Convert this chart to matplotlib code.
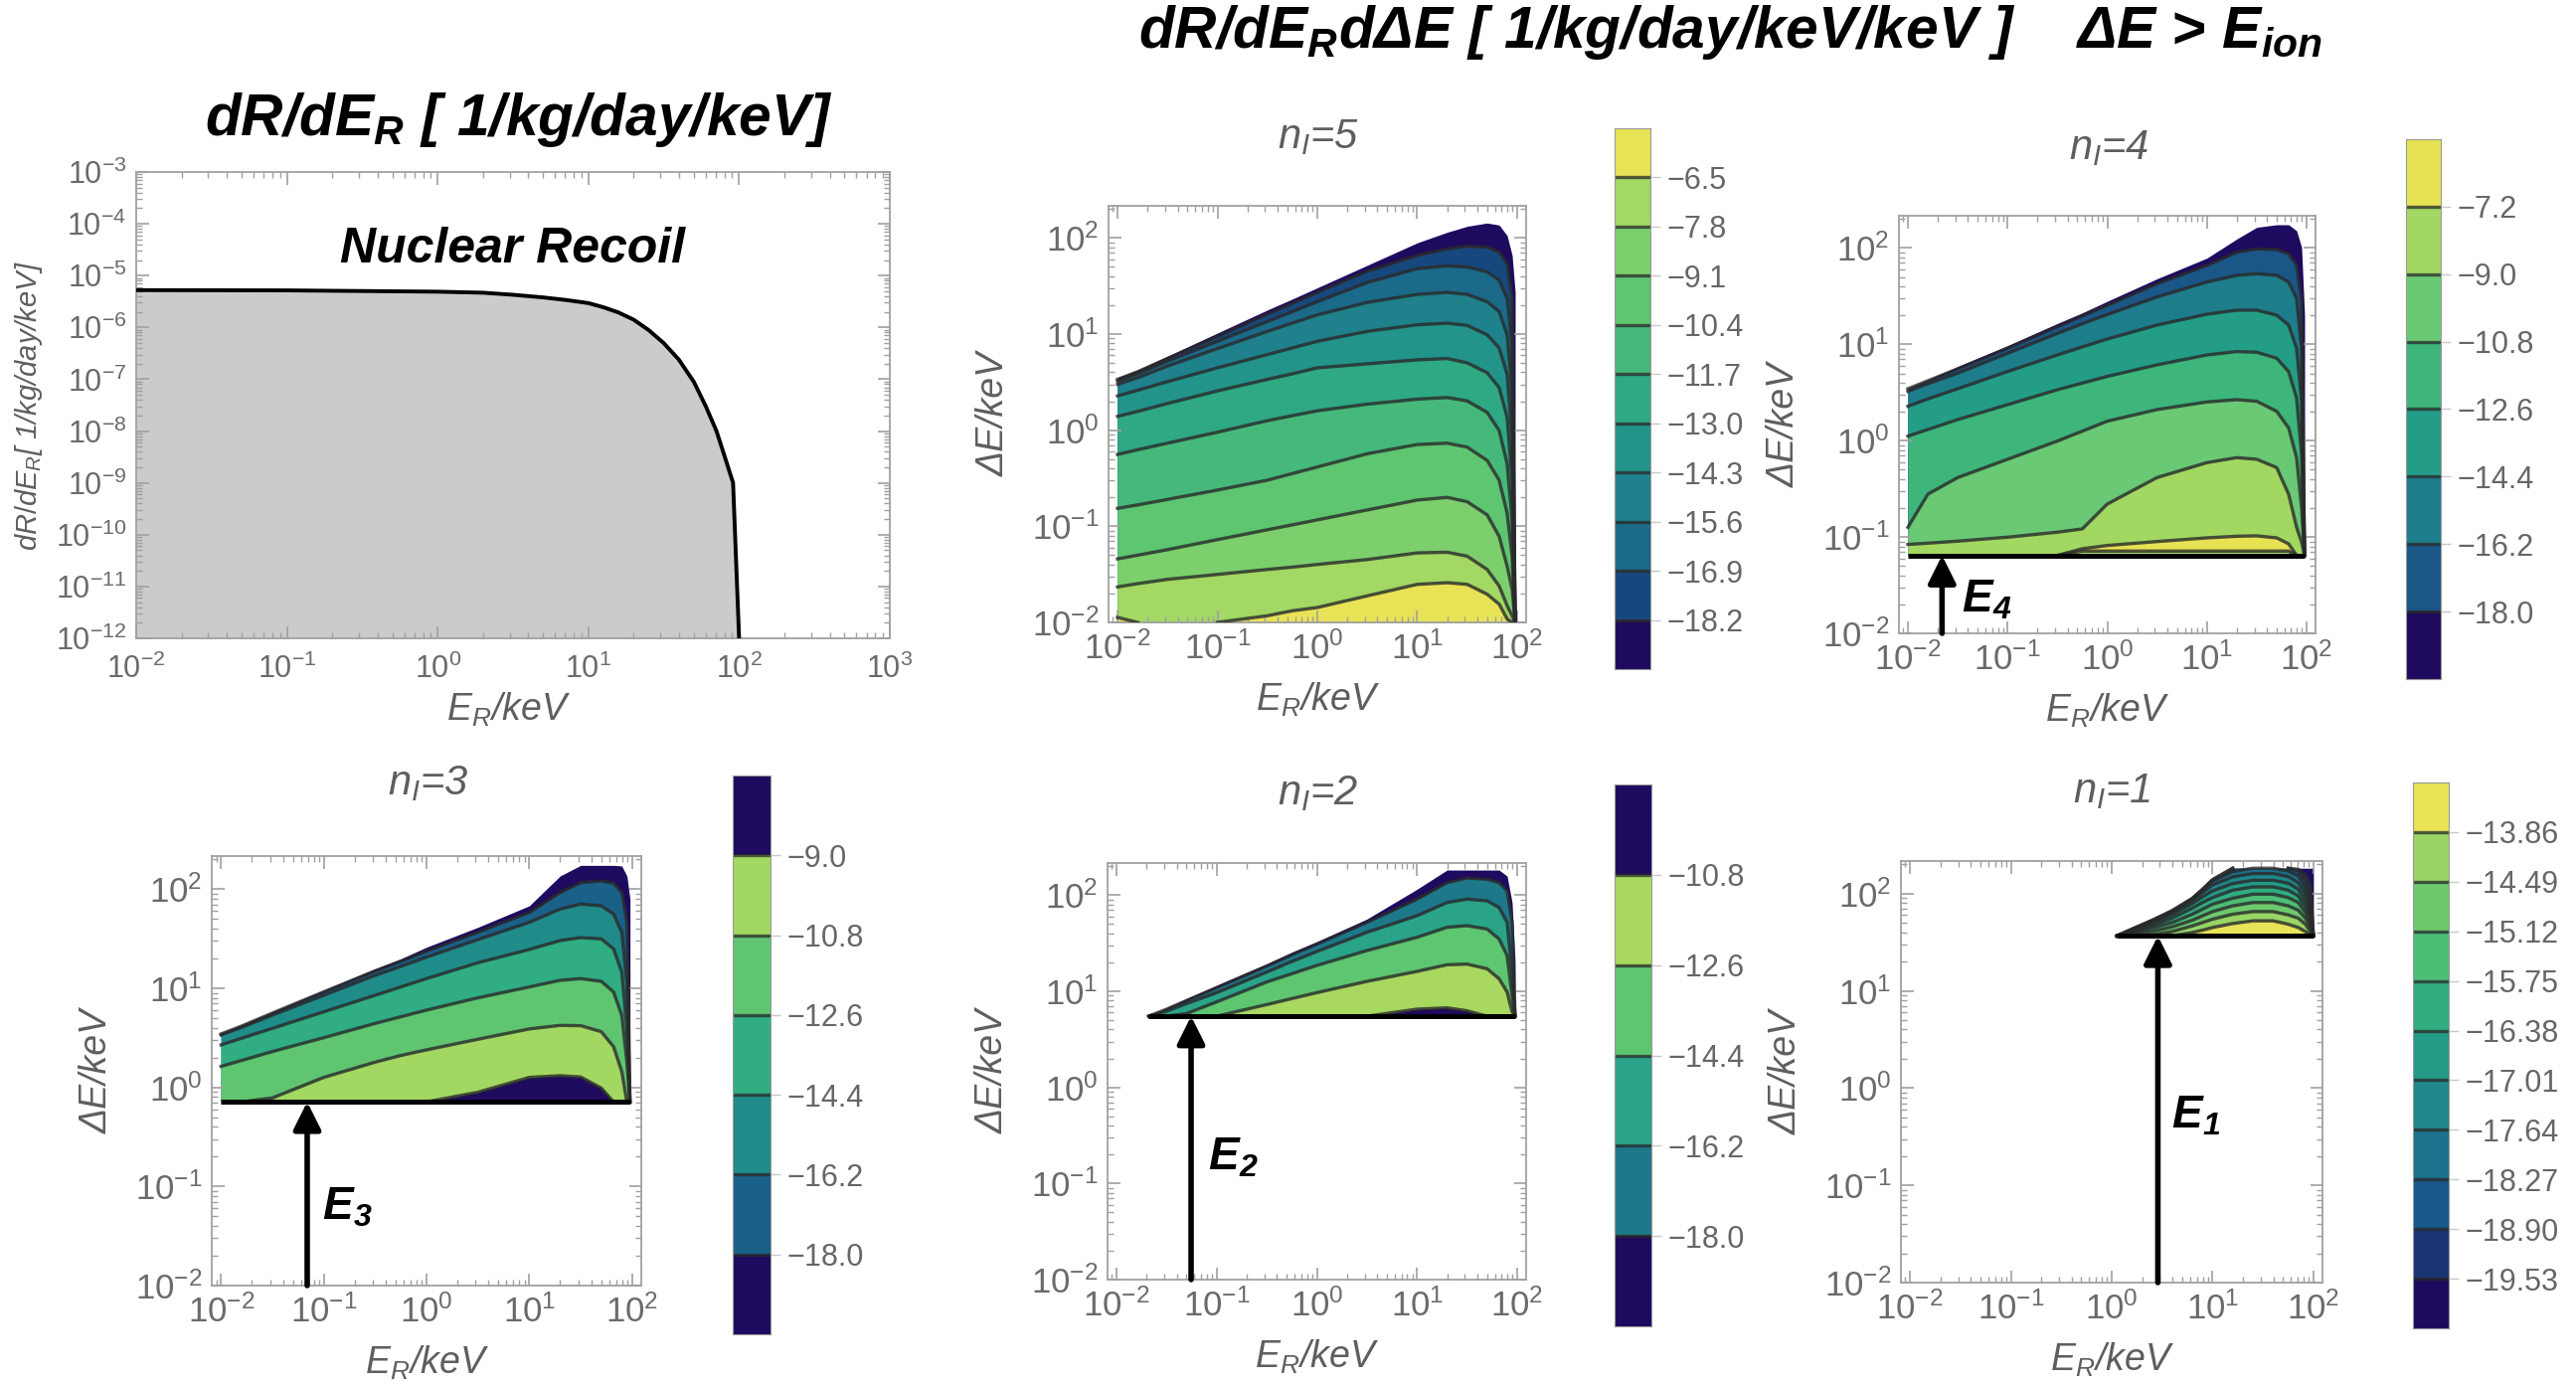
import numpy as np
import matplotlib
matplotlib.use('Agg')
import matplotlib.pyplot as plt
from matplotlib import font_manager
from matplotlib.ticker import FuncFormatter, LogLocator, NullFormatter

# ---------------- data: nuclear recoil spectrum ----------------
ER_NR = [0.01, 0.1, 1.0, 2.0, 3.16, 5.0, 7.08, 10.0, 12.6, 15.8, 20.0, 25.1, 31.6,
         39.8, 50.1, 60.3, 70.8, 79.4, 91.2, 100.0]
RATE_NR = [5.25e-6, 5.19e-6, 4.90e-6, 4.68e-6, 4.27e-6, 3.80e-6, 3.39e-6, 2.95e-6,
           2.45e-6, 1.95e-6, 1.41e-6, 8.9e-7, 5.0e-7, 2.4e-7, 8.9e-8, 2.95e-8,
           1.0e-8, 3.55e-9, 1.0e-9, 1.0e-12]

# ---------------- data: contour panels (log10 E_R, log10 dE) ----------------
X_A = [-2.0, -1.8, -1.5, -1.0, -0.5, -0.25, 0.0, 0.5, 1.0, 1.3, 1.5, 1.7, 1.82, 1.9, 1.95, 1.98]

# n_I = 5
LEV_N5 = [-18.2, -16.9, -15.6, -14.3, -13.0, -11.7, -10.4, -9.1, -7.8, -6.5]
FLOOR_N5 = -2.0
TOP_N5 = [0.546, 0.625, 0.770, 1.011, 1.251, 1.365, 1.482, 1.716, 1.950, 2.060, 2.122, 2.156, 2.135, 2.025, 1.819, 1.441]
L_N5 = [
    [0.529, 0.608, 0.746, 0.976, 1.207, 1.320, 1.434, 1.654, 1.819, 1.888, 1.915, 1.905, 1.853, 1.733, 1.372, -2.0],
    [0.512, 0.587, 0.718, 0.925, 1.131, 1.234, 1.337, 1.537, 1.681, 1.709, 1.699, 1.647, 1.561, 1.372, 0.890, -2.0],
    [0.477, 0.546, 0.667, 0.849, 1.028, 1.114, 1.200, 1.330, 1.413, 1.434, 1.413, 1.337, 1.234, 0.993, 0.409, -2.0],
    [0.357, 0.415, 0.505, 0.649, 0.787, 0.856, 0.925, 1.028, 1.097, 1.114, 1.090, 0.993, 0.856, 0.581, -0.073, -2.0],
    [0.144, 0.195, 0.278, 0.409, 0.529, 0.587, 0.649, 0.691, 0.732, 0.746, 0.701, 0.598, 0.443, 0.133, -0.520, -2.0],
    [-0.252, -0.204, -0.135, -0.021, 0.099, 0.151, 0.202, 0.271, 0.323, 0.340, 0.305, 0.185, -0.004, -0.348, -0.933, -2.0],
    [-0.813, -0.778, -0.720, -0.623, -0.520, -0.451, -0.383, -0.245, -0.149, -0.135, -0.176, -0.314, -0.520, -0.864, -1.311, -2.0],
    [-1.339, -1.301, -1.243, -1.139, -1.036, -0.985, -0.933, -0.830, -0.727, -0.699, -0.744, -0.881, -1.105, -1.415, -1.655, -2.0],
    [-1.631, -1.597, -1.552, -1.501, -1.449, -1.425, -1.397, -1.346, -1.277, -1.270, -1.311, -1.449, -1.621, -1.827, -1.931, -2.0],
    [-1.948, -2.0, -2.0, -2.0, -1.931, -1.879, -1.845, -1.724, -1.604, -1.587, -1.604, -1.707, -1.810, -1.965, -2.0, -2.0],
]

# n_I = 4
LEV_N4 = [-18.0, -16.2, -14.4, -12.6, -10.8, -9.0, -7.2]
FLOOR_N4 = -1.191
TOP_N4 = [0.546, 0.632, 0.770, 0.987, 1.217, 1.327, 1.447, 1.681, 1.895, 2.094, 2.215, 2.242, 2.242, 2.180, 2.008, 1.303]
L_N4 = [
    [0.539, 0.622, 0.746, 0.959, 1.183, 1.293, 1.406, 1.630, 1.819, 1.957, 1.991, 1.984, 1.939, 1.819, 1.441, -1.191],
    [0.512, 0.591, 0.701, 0.907, 1.114, 1.214, 1.310, 1.492, 1.647, 1.716, 1.733, 1.716, 1.647, 1.475, 0.959, -1.191],
    [0.357, 0.433, 0.539, 0.718, 0.890, 0.973, 1.055, 1.200, 1.313, 1.355, 1.355, 1.303, 1.200, 0.959, 0.409, -1.191],
    [0.047, 0.116, 0.219, 0.374, 0.529, 0.598, 0.667, 0.787, 0.890, 0.925, 0.918, 0.856, 0.718, 0.443, -0.142, -1.191],
    [-0.899, -0.555, -0.383, -0.193, -0.004, 0.099, 0.202, 0.323, 0.402, 0.426, 0.409, 0.305, 0.133, -0.176, -0.692, -1.191],
    [-1.077, -1.064, -1.043, -1.002, -0.950, -0.916, -0.658, -0.383, -0.228, -0.176, -0.193, -0.279, -0.555, -0.899, -1.053, -1.191],
]
BLOB_UP_N4 = [-1.191, -1.191, -1.191, -1.191, -1.191, -1.122, -1.088, -1.047, -1.009, -0.992, -0.988, -1.009, -1.071, -1.191, -1.191, -1.191]
BLOB_LO_N4 = [-1.191, -1.191, -1.191, -1.191, -1.191, -1.146, -1.146, -1.146, -1.146, -1.146, -1.146, -1.146, -1.146, -1.191, -1.191, -1.191]

# n_I = 3
LEV_N3 = [-18.0, -16.2, -14.4, -12.6, -10.8, -9.0]
FLOOR_N3 = -0.146
TOP_N3 = [0.546, 0.629, 0.763, 0.981, 1.198, 1.298, 1.415, 1.616, 1.833, 2.134, 2.241, 2.241, 2.241, 2.235, 2.134, 1.900]
L_N3 = [
    [0.539, 0.619, 0.750, 0.964, 1.175, 1.272, 1.375, 1.566, 1.766, 1.967, 2.067, 2.084, 2.061, 1.967, 1.666, -0.146],
    [0.529, 0.606, 0.730, 0.930, 1.131, 1.221, 1.315, 1.492, 1.666, 1.800, 1.850, 1.833, 1.750, 1.566, 1.064, -0.146],
    [0.429, 0.496, 0.596, 0.763, 0.930, 1.014, 1.098, 1.258, 1.392, 1.482, 1.512, 1.499, 1.399, 1.165, 0.596, -0.146],
    [0.212, 0.272, 0.362, 0.502, 0.646, 0.713, 0.780, 0.904, 1.014, 1.081, 1.098, 1.071, 0.964, 0.730, 0.262, -0.146],
    [-0.146, -0.146, -0.106, 0.101, 0.255, 0.322, 0.379, 0.486, 0.590, 0.626, 0.623, 0.563, 0.412, 0.161, -0.146, -0.146],
    [-0.146, -0.146, -0.146, -0.146, -0.146, -0.146, -0.146, -0.049, 0.101, 0.118, 0.105, -0.006, -0.146, -0.146, -0.146, -0.146],
]

# n_I = 2
X_N2 = [-1.68, -1.5, -1.3, -1.0, -0.5, -0.25, 0.0, 0.5, 1.0, 1.3, 1.5, 1.7, 1.82, 1.9, 1.95, 1.98]
LEV_N2 = [-18.0, -16.2, -14.4, -12.6, -10.8]
FLOOR_N2 = 0.741
TOP_N2 = [0.741, 0.828, 0.924, 1.062, 1.286, 1.407, 1.517, 1.752, 2.062, 2.262, 2.262, 2.262, 2.262, 2.200, 1.924, 1.303]
L_N2 = [
    [0.741, 0.814, 0.904, 1.038, 1.262, 1.379, 1.490, 1.717, 1.959, 2.131, 2.179, 2.166, 2.131, 2.045, 1.717, 0.741],
    [0.741, 0.793, 0.872, 0.986, 1.200, 1.310, 1.414, 1.614, 1.786, 1.924, 1.959, 1.941, 1.872, 1.717, 1.200, 0.741],
    [0.741, 0.741, 0.769, 0.890, 1.097, 1.183, 1.269, 1.424, 1.562, 1.666, 1.683, 1.648, 1.545, 1.372, 0.959, 0.741],
    [0.741, 0.741, 0.741, 0.741, 0.862, 0.924, 0.986, 1.103, 1.207, 1.276, 1.283, 1.235, 1.131, 0.993, 0.786, 0.741],
    [0.741, 0.741, 0.741, 0.741, 0.741, 0.741, 0.741, 0.741, 0.814, 0.828, 0.797, 0.741, 0.741, 0.741, 0.741, 0.741],
]

# n_I = 1
X_N1 = [0.05, 0.2, 0.4, 0.6, 0.8, 0.9, 1.0, 1.2, 1.4, 1.6, 1.75, 1.85, 1.92, 1.97, 2.0]
LEV_N1 = [-19.53, -18.90, -18.27, -17.64, -17.01, -16.38, -15.75, -15.12, -14.49, -13.86]
FLOOR_N1 = 1.565
TOP_N1 = [1.565, 1.634, 1.726, 1.829, 1.952, 2.045, 2.148, 2.261, 2.261, 2.261, 2.261, 2.261, 2.261, 2.261, 2.261]
L_N1 = [
    [1.565, 1.634, 1.726, 1.826, 1.952, 2.045, 2.144, 2.261, 2.261, 2.261, 2.261, 2.250, 2.199, 2.096, 1.565],
    [1.565, 1.634, 1.723, 1.822, 1.949, 2.041, 2.141, 2.261, 2.261, 2.261, 2.261, 2.233, 2.130, 1.994, 1.565],
    [1.565, 1.631, 1.720, 1.815, 1.946, 2.035, 2.130, 2.226, 2.261, 2.261, 2.233, 2.182, 2.062, 1.908, 1.565],
    [1.565, 1.624, 1.709, 1.805, 1.932, 2.011, 2.089, 2.172, 2.206, 2.206, 2.175, 2.113, 1.994, 1.839, 1.565],
    [1.565, 1.617, 1.692, 1.781, 1.898, 1.966, 2.028, 2.103, 2.137, 2.137, 2.107, 2.045, 1.925, 1.788, 1.565],
    [1.565, 1.603, 1.668, 1.747, 1.850, 1.908, 1.959, 2.035, 2.069, 2.069, 2.035, 1.976, 1.863, 1.737, 1.565],
    [1.565, 1.589, 1.644, 1.702, 1.788, 1.839, 1.891, 1.952, 1.994, 1.994, 1.959, 1.908, 1.805, 1.685, 1.565],
    [1.565, 1.576, 1.610, 1.658, 1.726, 1.771, 1.815, 1.874, 1.908, 1.908, 1.874, 1.829, 1.747, 1.651, 1.565],
    [1.565, 1.565, 1.576, 1.610, 1.668, 1.702, 1.737, 1.788, 1.815, 1.815, 1.781, 1.747, 1.685, 1.610, 1.565],
    [1.565, 1.565, 1.565, 1.565, 1.600, 1.624, 1.651, 1.692, 1.720, 1.720, 1.685, 1.651, 1.610, 1.576, 1.565],
]

# ionisation threshold markers (keV)
E_THR = {4: 0.022, 3: 0.069, 2: 0.0555, 1: 2.87}

# ---------------- colours ----------------
DP = '#1e0a5e'
COL_N5 = [DP, '#17487d', '#1b6a8a', '#1e818b', '#22948a', '#2fa884', '#46b97a', '#5ec570', '#7ccf6c', '#a2d863', '#e8e356']
COL_N4 = [DP, '#1a5686', '#1d7d8b', '#249d87', '#3eb67b', '#6ac974', '#a2d862', '#e6e254']
COL_N3 = [DP, '#1a6189', '#1f8c8a', '#30ad82', '#5fc571', '#a2d862', DP]
COL_N2 = [DP, '#1d788a', '#2aa488', '#5ec570', '#a8d860', DP]
COL_N1 = [DP, '#1b3574', '#18588a', '#1c718c', '#1f878b', '#249b87', '#31ad80', '#4dbe75', '#6ec96d', '#98d565', '#e8e357']

# ---------------- fonts ----------------
_names = {f.name for f in font_manager.fontManager.ttflist}
NARROW_OK = 'Liberation Sans Narrow' in _names
NARROW = 'Liberation Sans Narrow' if NARROW_OK else 'Liberation Sans'
TS = 1.0 if NARROW_OK else 0.96
plt.rcParams['font.family'] = ['Liberation Sans', 'DejaVu Sans']
plt.rcParams['mathtext.fontset'] = 'custom'
plt.rcParams['mathtext.rm'] = 'Liberation Sans'
plt.rcParams['mathtext.it'] = 'Liberation Sans:italic'
plt.rcParams['mathtext.bf'] = NARROW + ':bold:italic'
plt.rcParams['mathtext.sf'] = 'Liberation Sans'

GRAY = '#5e5e5e'
FRAME = '#a0a0a0'
LINE = '#2a2a2a'

W, H = 2591, 1392
fig = plt.figure(figsize=(W / 100, H / 100), dpi=100)


def rect(x0, y0, x1, y1):
    return [x0 / W, 1 - y1 / H, (x1 - x0) / W, (y1 - y0) / H]


def ftext(x, y, s, **kw):
    return fig.text(x / W, 1 - y / H, s, **kw)


def logfmt(v, p):
    return r'$\mathit{10^{%d}}$' % int(round(np.log10(v)))


def style(ax, xlim, ylim, lsize=25):
    ax.set_xscale('log')
    ax.set_yscale('log')
    ax.set_xlim(*xlim)
    ax.set_ylim(*ylim)
    for s in ax.spines.values():
        s.set_color(FRAME)
        s.set_linewidth(1.3)
    for axis in (ax.xaxis, ax.yaxis):
        axis.set_major_locator(LogLocator(base=10, numticks=30))
        axis.set_minor_locator(LogLocator(base=10, subs=np.arange(2, 10), numticks=300))
        axis.set_major_formatter(FuncFormatter(logfmt))
        axis.set_minor_formatter(NullFormatter())
    ax.tick_params(which='both', direction='in', top=True, right=True, color=FRAME,
                   labelcolor='#6a6a6a', labelsize=lsize)
    ax.tick_params(which='major', length=9, width=1.2, pad=7)
    ax.tick_params(which='minor', length=4.5, width=1.0)


def keep_mask(a, floor, cap):
    on = np.isclose(a, floor) | (a >= cap - 1e-9)
    keep = ~on
    keep[:-1] |= ~on[1:]
    keep[1:] |= ~on[:-1]
    return keep


def contour_panel(box, X, top, lines, floor, colors, levels, cbox, lab_fmt,
                  title, tpos, floor_line=True, blob=None):
    ax = fig.add_axes(rect(*box))
    style(ax, (10 ** -2.09, 10 ** 2.09), (1e-2, 10 ** 2.335))
    E = 10.0 ** np.asarray(X)
    fl = np.full(len(X), 10.0 ** floor)
    cap = max(top)
    bounds = [top] + lines
    for arr, c in zip(bounds, colors):
        ax.fill_between(E, fl, 10.0 ** np.asarray(arr), color=c, lw=0, zorder=1)
    draw_lines = list(lines)
    if blob is not None:
        lo, up = blob
        ax.fill_between(E, 10.0 ** np.asarray(lo), 10.0 ** np.asarray(up), color=colors[-1], lw=0, zorder=1)
        draw_lines += [up, lo]
    for arr in draw_lines:
        a = np.asarray(arr, float)
        k = keep_mask(a, floor, cap if cap > 2.2 else 99)
        ax.plot(E, np.where(k, 10 ** a, np.nan), color=LINE, alpha=0.8, lw=2.4, zorder=3)
    if floor_line:
        ax.plot([E[0], E[-1]], [10 ** floor] * 2, color='black', lw=3.6, zorder=4,
                solid_capstyle='butt')
    # labels
    x0, y0, x1, y1 = box
    ftext((x0 + x1) / 2, y1 + 78, r'$\mathit{E_R}$/keV', ha='center', va='center',
          fontsize=27, color=GRAY, style='italic')
    ftext(x0 - 115, (y0 + y1) / 2, 'ΔE/keV', ha='center', va='center', rotation=90,
          fontsize=27, color=GRAY, style='italic')
    ftext(tpos[0], tpos[1], r'$\mathit{n_I}$' + title, ha='center', va='center',
          fontsize=30, color=GRAY, style='italic')
    # colour bar
    cax = fig.add_axes(rect(*cbox))
    n = len(colors)
    for i, c in enumerate(colors):
        cax.axhspan(i, i + 1, color=c, lw=0)
    for i in range(1, n):
        cax.axhline(i, color=LINE, alpha=0.75, lw=2.4)
    cax.set_ylim(0, n)
    cax.set_xlim(0, 1)
    cax.set_xticks([])
    cax.yaxis.tick_right()
    cax.set_yticks(range(1, n))
    cax.set_yticklabels([(lab_fmt % v).replace('-', '\u2212') for v in sorted(levels)])
    cax.tick_params(axis='y', direction='out', length=7, width=1.0, color='#c8c8c8',
                    labelsize=22, labelcolor='#666666', pad=5)
    for s in cax.spines.values():
        s.set_color('#9a9a9a')
        s.set_linewidth(0.8)
    return ax


def arrow(ax, e, floor, label, lpos):
    ax.annotate('', xy=(e, 10 ** floor), xytext=(e, 1e-2),
                arrowprops=dict(arrowstyle='-|>', color='black', lw=4.0,
                                mutation_scale=42, shrinkA=0, shrinkB=0), zorder=6)
    ax.text(lpos[0], lpos[1], r'$\mathbf{E_{%d}}$' % label, fontsize=33, color='black',
            ha='center', va='center', zorder=6)


# ---------------- panel 1: dR/dE_R ----------------
ax1 = fig.add_axes(rect(137, 173, 895, 642))
style(ax1, (1e-2, 1e3), (1e-12, 1e-3), lsize=22)
ax1.tick_params(axis='x', which='major', pad=11)
ax1.fill_between(ER_NR, RATE_NR, 1e-12, color='#cbcbcb', lw=0, zorder=1)
ax1.plot(ER_NR, RATE_NR, color='black', lw=2.8, zorder=3)
ax1.text(0.5, 0.833, 'Nuclear Recoil', transform=ax1.transAxes, ha='center', va='center',
         fontsize=36, fontweight='bold', style='italic', family=NARROW, color='black')
ftext(522, 121, r'$\mathbf{dR/dE_R}$ [ 1/kg/day/keV]', ha='center', va='center',
      fontsize=44 * TS, fontweight='bold', style='italic', family=NARROW, color='black')
ftext(511, 714, r'$\mathit{E_R}$/keV', ha='center', va='center', fontsize=27,
      color=GRAY, style='italic')
ftext(29, 408, r'$\mathit{dR/dE_R}$[ 1/kg/day/keV]', ha='center', va='center',
      rotation=90, fontsize=21, color=GRAY, style='italic')

# big title
ftext(1740, 33, r'$\mathbf{dR/dE_R}$dΔE [ 1/kg/day/keV/keV ]    ΔE > $\mathbf{E_{ion}}$',
      ha='center', va='center', fontsize=44 * TS, fontweight='bold', style='italic',
      family=NARROW, color='black')

# ---------------- contour panels ----------------
contour_panel((1115, 207, 1535, 626), X_A, TOP_N5, L_N5, FLOOR_N5, COL_N5, LEV_N5,
              (1624, 129, 1660, 673), '%.1f', '=5', (1326, 138), floor_line=False)

ax4 = contour_panel((1910, 217, 2329, 637), X_A, TOP_N4, L_N4, FLOOR_N4, COL_N4, LEV_N4,
                    (2420, 140, 2455, 683), '%.1f', '=4', (2121, 149),
                    blob=(BLOB_LO_N4, BLOB_UP_N4))
arrow(ax4, E_THR[4], FLOOR_N4, 4, (10 ** -1.21, 10 ** -1.655))

ax3 = contour_panel((213, 861, 645, 1293), X_A, TOP_N3, L_N3, FLOOR_N3, COL_N3, LEV_N3,
                    (737, 780, 775, 1342), '%.1f', '=3', (431, 788))
arrow(ax3, E_THR[3], FLOOR_N3, 3, (10 ** -0.767, 10 ** -1.21))

ax2 = contour_panel((1114, 868, 1535, 1287), X_N2, TOP_N2, L_N2, FLOOR_N2, COL_N2, LEV_N2,
                    (1624, 789, 1661, 1334), '%.1f', '=2', (1326, 798))
arrow(ax2, E_THR[2], FLOOR_N2, 2, (10 ** -0.832, 10 ** -0.731))

axn1 = contour_panel((1912, 866, 2336, 1290), X_N1, TOP_N1, L_N1, FLOOR_N1, COL_N1, LEV_N1,
                     (2427, 787, 2463, 1336), '%.2f', '=1', (2124, 796))
arrow(axn1, E_THR[1], FLOOR_N1, 1, (10 ** 0.836, 10 ** -0.284))

fig.savefig('out.png', dpi=100)
